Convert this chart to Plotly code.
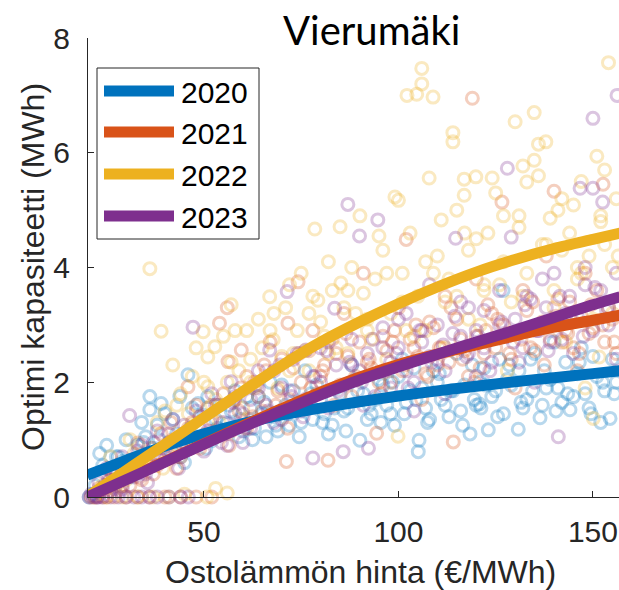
import plotly.graph_objects as go

# Years and line colours
years = ["2020", "2021", "2022", "2023"]
colors = ["#0072BD", "#D95319", "#EDB120", "#7E2F8E"]
ring_colors = ["rgba(0,114,189,0.28)", "rgba(217,83,25,0.28)",
               "rgba(237,177,32,0.28)", "rgba(126,47,142,0.28)"]

# Fitted capacity curves (MWh) against purchased-heat price (EUR/MWh)
curve_x = [20, 30, 40, 50, 60, 70, 80, 90, 100, 110, 120, 130, 140, 150, 157]
fit_2020 = [0.38, 0.64, 0.89, 1.10, 1.28, 1.43, 1.55, 1.66, 1.76, 1.85, 1.93, 2.01, 2.08, 2.15, 2.20]
fit_2021 = [0.00, 0.31, 0.62, 0.93, 1.24, 1.54, 1.83, 2.09, 2.31, 2.49, 2.65, 2.81, 2.96, 3.08, 3.17]
fit_2022 = [0.00, 0.46, 0.92, 1.38, 1.84, 2.29, 2.70, 3.05, 3.37, 3.66, 3.92, 4.14, 4.33, 4.49, 4.60]
fit_2023 = [0.00, 0.30, 0.61, 0.92, 1.22, 1.50, 1.78, 2.04, 2.27, 2.49, 2.70, 2.91, 3.13, 3.35, 3.49]

# Optimised capacities per simulated case
x_2020 = [20.5, 21.5, 23.2, 26, 29, 31, 33, 35, 36.1, 36.1, 38, 39, 41, 42, 43.8, 45.9, 46.5, 48.5,
          50, 52, 54, 56, 58, 60, 62, 64, 66, 68, 70, 72, 74, 76, 78, 80, 82, 84, 86, 88,
          90.1, 91, 93, 95, 97, 99, 101, 103, 105.1, 105.3, 107, 109, 111, 113, 115, 117,
          118.4, 120, 120.8, 121.2, 122, 123.1, 125, 126.9, 128, 130.8, 132, 134, 136.4, 138,
          140, 142, 144.1, 146, 148, 150, 152, 154.4, 156,
          22, 24, 25, 27, 28, 30, 32, 34, 37, 40, 43, 44, 47, 49, 51, 53, 55, 57, 59, 61,
          63, 65, 67, 69, 71, 73, 75, 77, 79, 81, 83, 85, 87, 89, 92, 94, 96, 98, 100, 102,
          104, 106, 108, 110, 112, 114, 116, 119, 121, 124, 126, 127, 129, 131, 133, 135, 137, 139, 141, 143,
          145, 147, 149, 151, 153, 155, 157,
          50.5, 53.5, 56.5, 59.5, 62.5, 65.5, 68.5, 71.5, 74.5, 77.5, 80.5, 83.5, 86.5, 89.5, 92.5, 95.5,
          98.5, 101.5, 104.5, 107.5, 110.5, 113.5, 116.5, 119.5, 122.5, 125.5, 128.5, 131.5, 134.5, 137.5,
          140.5, 143.5, 146.5, 149.5, 152.5, 155.5, 45, 41.5, 38.5, 34.5, 31.5, 27.5]
y_2020 = [0.00, 0.05, 0.76, 0.45, 0.62, 0.35, 0.90, 1.05, 1.75, 1.52, 1.25, 1.63, 0.95, 1.35, 1.75, 2.13, 1.20, 1.63,
          1.42, 0.98, 1.60, 1.28, 1.85, 1.15, 1.55, 1.75, 1.05, 1.40, 1.95, 1.25, 1.62, 2.20, 1.35, 1.70, 1.10, 1.90, 1.50, 2.30,
          0.99, 1.80, 1.45, 2.05, 1.60, 1.25, 2.40, 1.85, 0.79, 0.99, 1.55, 2.20, 1.70, 1.40, 2.50, 1.95,
          1.10, 1.60, 1.62, 1.55, 2.25, 1.17, 1.85, 3.60, 2.05, 1.18, 1.55, 2.40, 1.38, 1.90,
          2.70, 1.65, 1.52, 2.15, 1.80, 2.45, 1.30, 1.37, 2.00,
          0.20, 0.55, 0.90, 0.30, 0.70, 1.00, 0.55, 1.30, 0.85, 1.45, 1.10, 0.70, 1.55, 0.95, 1.75, 1.35, 1.15, 1.50, 1.05, 1.75,
          1.20, 1.45, 2.00, 1.15, 1.60, 1.85, 1.30, 1.70, 1.95, 1.45, 1.25, 1.80, 1.55, 2.05, 1.35, 1.70, 1.95, 1.45, 2.10, 1.65,
          2.25, 1.90, 1.35, 2.00, 1.60, 1.85, 1.50, 2.30, 2.00, 1.75, 2.40, 1.45, 1.95, 2.20, 1.70, 2.50, 1.60, 2.05, 1.90, 2.35,
          1.75, 2.60, 1.55, 2.10, 1.85, 2.40, 1.65,
          0.85, 1.20, 1.60, 1.35, 1.00, 1.65, 1.25, 1.45, 1.05, 1.80, 1.30, 1.55, 1.15, 1.85, 1.60, 1.30,
          2.00, 1.45, 1.70, 1.30, 2.15, 1.85, 1.25, 1.70, 1.95, 1.40, 2.30, 1.65, 1.85, 2.20,
          1.50, 1.80, 2.35, 1.45, 2.00, 1.80, 0.60, 0.80, 1.00, 0.95, 0.45, 0.70]

x_2021 = [21, 24, 27, 30, 33, 36, 40, 44, 48, 52,
          23, 26, 28, 31, 33, 35, 37, 39, 41, 43, 45.9, 47, 49, 51, 53, 54, 56, 56.2, 58, 59.6,
          61, 63, 65, 67, 69, 71.2, 71.6, 73, 74.2, 76, 78, 80, 81.9, 84, 86, 88, 91, 92, 94.4,
          96, 98, 100, 102, 104, 106, 108, 110, 112, 114.1, 116, 118, 119, 120, 122, 124, 126.6,
          128, 130, 132, 134, 136, 138, 140, 142, 144, 146, 148, 150, 152.6, 154, 156,
          22, 23.5, 25, 26.5, 29, 31.5, 34, 36.5, 38, 42, 44, 46, 48, 50, 52, 55, 57, 59, 61, 62,
          64, 66, 68, 70, 72, 75, 77, 79, 81, 83, 85, 87, 89, 90, 93, 95, 97, 99, 101, 103,
          105, 107, 109, 111, 113, 115, 117, 120, 121, 123, 125, 127, 129, 131, 133, 135, 137, 139, 141, 143,
          145, 147, 149, 151, 153, 155, 157,
          50.5, 53.5, 56.5, 59.5, 62.5, 65.5, 68.5, 71.5, 74.5, 77.5, 80.5, 83.5, 86.5, 89.5, 92.5, 95.5,
          98.5, 101.5, 104.5, 107.5, 110.5, 113.5, 116.5, 119.5, 122.5, 125.5, 128.5, 131.5, 134.5, 137.5,
          140.5, 143.5, 146.5, 149.5, 152.5, 155.5, 25.5, 29.5, 33.5, 37.5, 41.5, 45.5]
y_2021 = [0, 0, 0, 0, 0, 0, 0, 0, 0, 0,
          0.15, 0.30, 0.55, 0.20, 0.94, 0.60, 0.40, 1.10, 0.75, 0.50, 1.92, 1.30, 0.85, 1.55, 1.05, 3.03, 3.30, 2.36, 1.70, 2.56,
          1.20, 2.00, 1.50, 2.70, 1.85, 0.62, 3.03, 2.25, 3.75, 1.60, 2.90, 2.10, 0.64, 2.50, 3.20, 1.75, 3.90, 2.35, 1.11,
          2.80, 2.00, 3.30, 4.49, 2.60, 1.70, 3.05, 2.30, 3.50, 0.96, 2.75, 2.10, 6.95, 3.80, 2.50, 3.20, 5.14,
          2.85, 1.90, 3.60, 2.60, 3.00, 4.20, 5.33, 2.70, 3.40, 2.20, 3.90, 2.95, 5.45, 3.30, 2.50,
          0.00, 0.10, 0.00, 0.40, 0.20, 0.65, 0.30, 0.85, 0.55, 1.00, 0.70, 1.20, 1.60, 1.00, 1.35, 1.80, 1.15, 1.50, 2.10, 1.35,
          1.75, 2.20, 1.45, 2.40, 1.70, 2.00, 2.55, 1.80, 2.30, 2.75, 1.95, 2.45, 2.10, 2.70, 2.25, 2.00, 2.55, 2.90, 2.20, 2.75,
          2.45, 2.15, 2.95, 2.60, 2.35, 3.10, 2.55, 2.80, 2.25, 3.35, 2.60, 3.00, 2.40, 2.85, 3.25, 2.55, 3.05, 2.75, 3.45, 2.90,
          2.60, 3.15, 2.85, 3.60, 2.70, 3.10, 2.90,
          1.10, 1.60, 0.90, 1.90, 1.40, 2.30, 1.60, 1.20, 2.50, 1.90, 2.20, 1.60, 2.85, 2.05, 2.40, 1.80,
          2.70, 2.30, 3.00, 2.10, 2.60, 3.30, 2.40, 2.00, 2.90, 3.10, 2.50, 2.75, 3.40, 2.30,
          3.15, 2.85, 2.50, 3.35, 3.00, 2.70, 0.20, 0.50, 0.35, 0.75, 1.30, 0.90]

x_2022 = [22, 25, 29, 33, 37, 41, 45, 50.8, 53, 56, 24, 27, 30, 32, 35, 36.1, 38, 39, 41, 43, 45, 47,
          49.8, 51, 51, 52.8, 54, 56, 58, 60, 62, 64, 66.9, 67.8, 69, 71, 73, 75, 77, 78.5, 79.3,
          81, 83, 85.2, 85, 87, 89, 90.1, 92, 94, 95, 97, 99.1, 99.9, 100, 101, 102.2, 104, 104.7,
          106, 106, 107.9, 108.9, 109, 111, 112, 114, 114, 115, 116.9, 116.9, 118, 119.9, 121, 123,
          124.1, 126, 128, 130, 131, 132, 133, 134.9, 134.9, 136, 137.9, 139, 140, 142, 143, 145,
          146, 148, 150.1, 151, 151.6, 153, 154, 155, 156,
          23, 26, 28, 31, 34, 40, 42, 44, 46, 48, 50, 53, 55, 57, 59, 61, 63, 65, 68, 70,
          72, 74, 76, 78, 80, 82, 84, 86, 88, 91, 93, 96, 98, 101, 103, 105, 107, 110, 113, 115,
          118, 120, 122, 125, 127, 129, 131, 133, 136, 138, 140, 141, 144, 146, 147, 149, 150, 152, 153, 155,
          157,
          52, 57, 62, 67, 72, 77, 82, 87, 92, 97, 102, 107, 112, 117, 122, 127, 132, 137, 142, 147,
          152, 156.5, 44.5, 39.5, 27.5]
y_2022 = [0, 0, 0, 0, 0, 0, 0.05, 0, 0.15, 0.07, 0.20, 0.45, 0.30, 0.75, 0.55, 3.98, 1.30, 2.89, 0.90, 1.60, 1.10, 2.10,
          2.88, 2.44, 1.92, 2.62, 1.30, 2.00, 2.90, 1.55, 2.40, 3.10, 3.49, 2.74, 1.90, 3.30, 2.50, 3.90, 2.20, 4.67, 3.43,
          2.80, 3.60, 3.73, 4.71, 2.50, 3.20, 4.90, 2.90, 3.80, 4.55, 2.40, 5.23, 1.06, 5.17, 3.40, 7.00, 2.80, 7.02,
          7.47, 7.20, 5.56, 6.97, 3.90, 4.83, 2.60, 6.35, 6.19, 3.50, 5.54, 5.26, 4.30, 5.58, 3.00, 4.60,
          5.56, 3.70, 2.20, 6.54, 4.90, 5.77, 5.49, 6.70, 5.87, 6.15, 6.19, 4.86, 3.60, 4.30, 2.70, 5.09,
          4.00, 1.90, 1.37, 5.94, 2.44, 4.40, 7.57, 3.20, 5.20,
          0.10, 0.70, 0.25, 1.00, 0.60, 1.50, 2.30, 1.80, 1.45, 2.60, 2.00, 1.70, 2.80, 3.35, 2.20, 2.90, 1.90, 2.60, 3.20, 2.45,
          3.70, 2.90, 2.55, 3.50, 3.05, 4.10, 2.60, 3.30, 4.00, 3.55, 2.75, 4.30, 3.20, 3.90, 4.60, 3.50, 2.90, 4.20, 3.80, 5.00,
          3.10, 4.50, 3.60, 5.30, 4.10, 3.40, 4.70, 3.90, 5.60, 4.40, 3.30, 5.00, 4.60, 3.80, 5.50, 4.20, 3.10, 4.90, 5.70, 4.00,
          4.60,
          1.60, 2.35, 2.00, 2.90, 2.20, 3.20, 2.50, 3.60, 3.10, 3.90, 2.90, 4.10, 3.40, 4.60, 3.70, 4.90, 3.50, 4.40, 5.20, 3.90,
          4.80, 4.20, 0.90, 0.50, 0.20]

x_2023 = [20.5, 21.5, 22.5, 24, 26, 28, 30, 32, 34, 36, 38, 41, 44, 46,
          23, 25, 27, 29, 30.9, 32, 34, 36, 38, 40, 42, 44, 47.2, 48, 50, 52, 54, 57, 58, 60, 62, 64,
          66.9, 68, 70, 71.4, 73, 75, 76.2, 78, 80, 82, 83.6, 85.8, 87, 88, 90, 91, 92.3, 94.7, 96,
          98, 100, 102, 104, 106, 108, 110, 112, 114.7, 116, 118, 120, 122, 126, 128, 129, 131, 133,
          135, 137, 139, 141.1, 143, 145, 146.7, 148, 150, 150, 152.5, 154, 156.2, 156,
          21, 23, 24.5, 26, 27.5, 29, 31, 33, 35, 37, 39, 41, 43, 45, 47, 49, 51, 53, 55, 56,
          58, 60, 62, 64, 66, 68, 70, 72, 74, 76, 78, 80, 82, 84, 86, 88, 90, 92, 94, 96,
          98, 100, 102, 104, 106, 108, 110, 112, 114, 116, 118, 120, 122, 124, 126, 128, 130, 132, 134, 136,
          138, 140, 142, 144, 146, 148, 150, 152, 154, 156,
          51.5, 54.5, 57.5, 60.5, 63.5, 66.5, 69.5, 72.5, 75.5, 78.5, 81.5, 84.5, 87.5, 90.5, 93.5, 96.5,
          99.5, 102.5, 105.5, 108.5, 111.5, 114.5, 117.5, 120.5, 123.5, 126.5, 129.5, 132.5, 135.5, 138.5,
          141.5, 144.5, 147.5, 150.5, 153.5, 22.5, 25.5, 28.5, 31.5, 35.5, 39.5, 43.5]
y_2023 = [0, 0, 0, 0, 0, 0, 0, 0, 0, 0, 0, 0, 0, 0,
          0.25, 0.50, 0.15, 0.70, 1.42, 0.35, 0.90, 0.55, 1.15, 0.70, 1.35, 0.95, 2.96, 1.50, 0.80, 1.80, 1.10, 2.01, 1.45, 0.95, 1.70, 2.20,
          2.56, 1.30, 1.90, 3.58, 2.40, 1.50, 2.56, 0.68, 2.00, 2.70, 3.29, 0.79, 5.10, 2.30, 4.55, 1.60, 0.85, 4.83, 2.60,
          1.90, 3.10, 2.20, 1.50, 2.90, 3.70, 2.40, 1.80, 4.51, 2.80, 3.30, 2.10, 2.60, 3.00, 5.73, 4.53, 2.35, 3.50,
          2.00, 3.80, 2.70, 1.05, 3.20, 2.50, 5.38, 3.70, 6.60, 5.38, 5.14, 3.00, 7.00, 2.40,
          0.05, 0.00, 0.20, 0.10, 0.45, 0.15, 0.55, 0.80, 0.40, 0.95, 0.65, 1.10, 0.80, 1.25, 0.90, 1.40, 1.15, 1.60, 1.30, 0.90,
          1.75, 1.45, 1.20, 1.90, 1.60, 2.20, 1.35, 1.85, 2.50, 1.70, 2.10, 2.60, 1.55, 2.30, 1.95, 2.75, 2.20, 2.50, 1.75, 2.95,
          2.35, 2.60, 3.20, 2.00, 2.70, 2.45, 3.00, 2.20, 2.85, 3.40, 2.50, 2.90, 3.25, 2.35, 3.60, 2.80, 3.10, 2.60, 3.45, 2.90,
          3.30, 3.90, 2.75, 3.50, 3.15, 4.00, 2.90, 3.60, 3.30, 3.90,
          1.30, 0.95, 1.65, 1.20, 1.95, 1.50, 2.30, 1.75, 1.40, 2.10, 2.55, 1.85, 2.35, 2.00, 2.75, 2.20,
          2.50, 1.90, 2.90, 2.35, 2.65, 3.15, 2.45, 2.80, 2.20, 3.05, 2.70, 3.35, 2.90, 2.55,
          3.50, 3.10, 2.80, 3.65, 3.25, 0.00, 0.30, 0.10, 0.60, 0.25, 0.85, 0.50]

# Axis ticks
x_ticks = [50, 100, 150]
y_ticks = [0, 2, 4, 6, 8]

points = [(x_2020, y_2020), (x_2021, y_2021), (x_2022, y_2022), (x_2023, y_2023)]
fits = [fit_2020, fit_2021, fit_2022, fit_2023]

fig = go.Figure()

# Scatter rings first, fitted curves on top
for year, (xs, ys), ring in zip(years, points, ring_colors):
    fig.add_trace(go.Scatter(
        x=xs, y=ys, mode="markers", name=year, showlegend=False,
        cliponaxis=False,
        marker=dict(symbol="circle-open", size=12, color=ring, line=dict(width=3, color=ring)),
    ))

for year, fit, col in zip(years, fits, colors):
    fig.add_trace(go.Scatter(
        x=curve_x, y=fit, mode="lines", name=year, showlegend=False,
        line=dict(color=col, width=11, shape="spline", smoothing=0.8),
    ))

# Plot-area geometry in pixels (for placing the hand-built legend and labels)
W, H = 619, 590
L, R, T, B = 88, 0, 38, 93
pw, ph = W - L - R, H - T - B


def px(xp):
    return (xp - L) / pw


def py(yp):
    return (H - B - yp) / ph


shapes = []
annotations = []

# Legend box
shapes.append(dict(type="rect", xref="paper", yref="paper", layer="above",
                   x0=px(97), x1=px(259), y0=py(239), y1=py(68),
                   line=dict(color="#262626", width=1), fillcolor="white"))
row_y = [91, 132, 174, 216]
for year, col, ry in zip(years, colors, row_y):
    shapes.append(dict(type="line", xref="paper", yref="paper", layer="above",
                       x0=px(104), x1=px(174), y0=py(ry), y1=py(ry),
                       line=dict(color=col, width=11)))
    annotations.append(dict(text=year, xref="paper", yref="paper", x=px(179), y=py(ry + 1),
                            xanchor="left", yanchor="middle", showarrow=False,
                            font=dict(family="Liberation Sans", size=30, color="black")))

# Title and axis titles
annotations.append(dict(text="Vierumäki", xref="paper", yref="paper", x=px(371), y=py(30),
                        xanchor="center", yanchor="middle", showarrow=False,
                        font=dict(family="Lato", size=40, color="black")))
annotations.append(dict(text="Ostolämmön hinta (€/MWh)", xref="paper", yref="paper",
                        x=px(360), y=py(572), xanchor="center", yanchor="middle", showarrow=False,
                        font=dict(family="Liberation Sans", size=32, color="#262626")))
annotations.append(dict(text="Optimi kapasiteetti (MWh)", xref="paper", yref="paper",
                        x=px(33), y=py(267), xanchor="center", yanchor="middle", showarrow=False,
                        textangle=-90,
                        font=dict(family="Liberation Sans", size=32, color="#262626")))

axis_common = dict(showgrid=False, zeroline=False, showline=True, linecolor="#262626", linewidth=1,
                   ticks="inside", ticklen=6, tickwidth=1, tickcolor="#262626",
                   tickfont=dict(family="Liberation Sans", size=30, color="#262626"))

fig.update_layout(
    width=W, height=H,
    margin=dict(l=L, r=R, t=T, b=B, pad=0),
    paper_bgcolor="white", plot_bgcolor="white",
    xaxis=dict(range=[20.2, 156.7], tickvals=x_ticks, ticklabelstandoff=8, **axis_common),
    yaxis=dict(range=[0, 8], tickvals=y_ticks, ticklabelstandoff=11, **axis_common),
    shapes=shapes, annotations=annotations, showlegend=False,
)

fig.write_html("out.html")
